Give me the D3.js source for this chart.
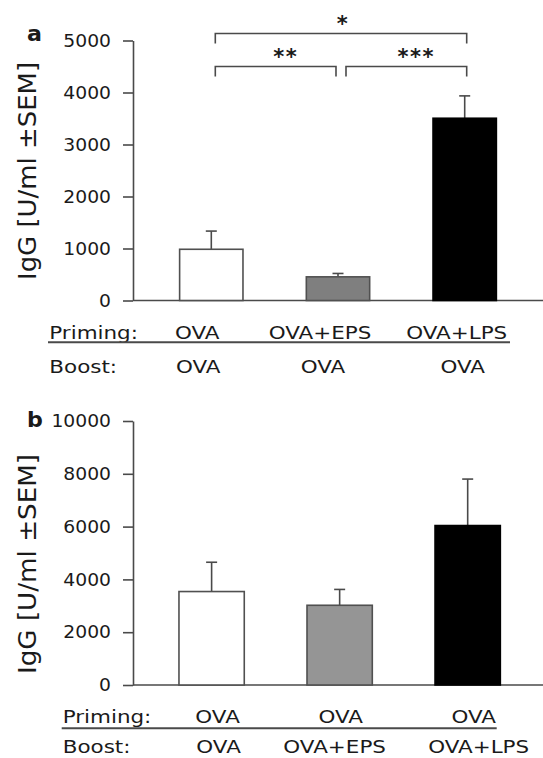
<!DOCTYPE html>
<html><head><meta charset="utf-8">
<script src="https://cdn.jsdelivr.net/npm/d3@7"></script>
<style>
html,body{margin:0;padding:0;background:#fff;}
svg{display:block;font-family:"DejaVu Sans",Verdana,sans-serif;}
</style></head>
<body>
<svg id="chart" width="543" height="758"></svg>
<script>
// ---- data ----
const groups = [0, 1, 2];
const primingA = ["OVA", "OVA+EPS", "OVA+LPS"];
const boostA = ["OVA", "OVA", "OVA"];
const meanA = [985, 455, 3505];
const semA = [350, 65, 430];
const ticksA = [0, 1000, 2000, 3000, 4000, 5000];

const primingB = ["OVA", "OVA", "OVA"];
const boostB = ["OVA", "OVA+EPS", "OVA+LPS"];
const meanB = [3540, 3020, 6040];
const semB = [1110, 600, 1760];
const ticksB = [0, 2000, 4000, 6000, 8000, 10000];

const bracketFrom = [0, 0, 1];
const bracketTo = [2, 1, 2];
const bracketLabel = ["*", "**", "***"];
const bracketLevel = [0, 1, 1];

const yTitle = "IgG [U/ml \u00B1SEM]";

// ---- drawing ----
const svg = d3.select("#chart");
const ink = "#1a1a1a", lineCol = "#4a4a4a";

function stretch(sel, k) {
  sel.each(function () {
    const w = this.getComputedTextLength();
    this.setAttribute("textLength", w * k);
    this.setAttribute("lengthAdjust", "spacingAndGlyphs");
  });
}

function panel(cfg) {
  const g = svg.append("g");
  const x = d3.scaleBand().domain(groups).range(cfg.xRange)
    .paddingInner(cfg.pin).paddingOuter(cfg.pout);
  const y = d3.scaleLinear().domain([0, cfg.max]).range(cfg.yRange);

  // x baseline
  g.append("line").attr("x1", cfg.xRange[0]).attr("x2", 543)
    .attr("y1", y(0)).attr("y2", y(0))
    .attr("stroke", lineCol).attr("stroke-width", 1.6);

  // y axis
  const ax = g.append("g").attr("transform", `translate(${cfg.xRange[0]},0)`)
    .call(d3.axisLeft(y).tickValues(cfg.ticks).tickSize(10).tickSizeOuter(0).tickPadding(12).tickFormat(d3.format("d")));
  ax.selectAll("path,line").attr("stroke", lineCol).attr("stroke-width", 1.6);
  ax.selectAll("text").attr("fill", ink).style("font-size", "17.5px")
    .style("font-family", '"DejaVu Sans",Verdana,sans-serif');
  stretch(ax.selectAll("text"), 1.07);

  // error bars
  const fills = ["#ffffff", cfg.gray, "#000000"];
  const eb = g.append("g");
  groups.forEach(i => {
    const cx = x(i) + x.bandwidth() / 2;
    eb.append("line").attr("x1", cx).attr("x2", cx)
      .attr("y1", y(cfg.mean[i])).attr("y2", y(cfg.mean[i] + cfg.sem[i]))
      .attr("stroke", lineCol).attr("stroke-width", 1.6);
    eb.append("line").attr("x1", cx - 5.5).attr("x2", cx + 5.5)
      .attr("y1", y(cfg.mean[i] + cfg.sem[i])).attr("y2", y(cfg.mean[i] + cfg.sem[i]))
      .attr("stroke", lineCol).attr("stroke-width", 1.6);
  });

  // bars
  g.append("g").selectAll("rect").data(groups).join("rect")
    .attr("x", i => x(i)).attr("width", x.bandwidth())
    .attr("y", i => y(cfg.mean[i])).attr("height", i => y(0) - y(cfg.mean[i]))
    .attr("fill", i => fills[i])
    .attr("stroke", i => i === 2 ? "#000" : "#505050").attr("stroke-width", 1.6);

  // panel letter
  const lt = g.append("text").attr("x", 27).attr("y", cfg.letterY).text(cfg.letter)
    .attr("fill", ink).style("font-weight", "bold").style("font-size", "20.5px");
  stretch(lt, 1.08);

  // y title
  const t = g.append("text").attr("transform", `translate(36,${cfg.titleY}) rotate(-90)`)
    .attr("text-anchor", "middle").attr("fill", ink).style("font-size", "24px").text(yTitle);
  t.attr("textLength", cfg.titleLen).attr("lengthAdjust", "spacingAndGlyphs");

  // table rows
  const tbl = g.append("g").style("font-size", "18.5px").attr("fill", ink);
  const rowLab = [["Priming:", cfg.primingY], ["Boost:", cfg.boostY]];
  rowLab.forEach(([s, yy]) => {
    const tt = tbl.append("text").attr("x", cfg.rowX).attr("y", yy).text(s);
    stretch(tt, 1.16);
  });
  const pr = tbl.selectAll("text.pr").data(groups).join("text").attr("class", "pr")
    .attr("x", i => x(i) + x.bandwidth() / 2 + cfg.primOff[i]).attr("y", cfg.primingY)
    .attr("text-anchor", "middle").text(i => cfg.priming[i]);
  stretch(pr, 1.16);
  const bo = tbl.selectAll("text.bo").data(groups).join("text").attr("class", "bo")
    .attr("x", i => x(i) + x.bandwidth() / 2 + cfg.boostOff[i]).attr("y", cfg.boostY)
    .attr("text-anchor", "middle").text(i => cfg.boost[i]);
  stretch(bo, 1.16);
  g.append("line").attr("x1", cfg.ulX[0]).attr("x2", cfg.ulX[1])
    .attr("y1", cfg.ulY).attr("y2", cfg.ulY).attr("stroke", "#4a4a4a").attr("stroke-width", 2);

  return {g, x, y};
}

const A = panel({
  xRange: [133, 543], pin: 0.5, pout: 0.368, max: 5000, yRange: [300.5, 40.5],
  ticks: ticksA, mean: meanA, sem: semA, gray: "#7f7f7f", letter: "a", letterY: 41,
  titleY: 171, titleLen: 218, rowX: 49.3, primingY: 338.5, boostY: 372.5,
  priming: primingA, boost: boostA, primOff: [-14, -18, -8], boostOff: [-13, -15, -2],
  ulX: [48, 510], ulY: 342.3
});

const B = panel({
  xRange: [133, 546.3], pin: 0.49, pout: 0.359, max: 10000, yRange: [685, 421],
  ticks: ticksB, mean: meanB, sem: semB, gray: "#959595", letter: "b", letterY: 426.7,
  titleY: 564, titleLen: 220, rowX: 62.7, primingY: 722.5, boostY: 752.5,
  priming: primingB, boost: boostB, primOff: [6, 1, 6], boostOff: [7, -5, 11],
  ulX: [61.7, 496.7], ulY: 728.3
});

// significance brackets (panel a)
const bk = A.g.append("g");
const cA = i => A.x(i) + A.x.bandwidth() / 2;
const levelY = [A.y(5000) - 7, A.y(5000) + 26];
const endOff = [[4, 2], [4, -2], [8, 2]];
bracketFrom.forEach((f, k) => {
  const x1 = cA(f) + endOff[k][0], x2 = cA(bracketTo[k]) + endOff[k][1];
  const yy = levelY[bracketLevel[k]];
  bk.append("path").attr("d", `M${x1},${yy + 10}V${yy}H${x2}V${yy + 10}`)
    .attr("fill", "none").attr("stroke", lineCol).attr("stroke-width", 1.6);
  bk.append("text").attr("x", (x1 + x2) / 2 + (k === 0 ? 2 : 10)).attr("y", yy - 3)
    .attr("text-anchor", "middle").attr("fill", ink).style("font-size", "21px")
    .style("font-weight", "bold").style("letter-spacing", "1.5px").text(bracketLabel[k]);
});
</script>
</body></html>
